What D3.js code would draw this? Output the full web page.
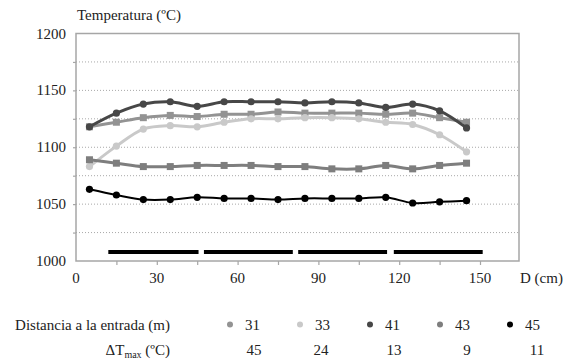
<!DOCTYPE html>
<html>
<head>
<meta charset="utf-8">
<script src="https://cdn.jsdelivr.net/npm/d3@7"></script>
<style>
  html, body { margin: 0; padding: 0; background: #fff; }
  svg { display: block; }
</style>
</head>
<body>
<svg id="chart" width="568" height="359"></svg>
<script>
// Distance along the section (cm)
const positions = [5, 15, 25, 35, 45, 55, 65, 75, 85, 95, 105, 115, 125, 135, 145];

// Temperature (ºC) at each distance from the entrance (m)
const t31 = [1118, 1122, 1126, 1128, 1127, 1129, 1129, 1131, 1130, 1130, 1130, 1129, 1130, 1126, 1122];
const t33 = [1083, 1101, 1116, 1119, 1118, 1122, 1125, 1125, 1126, 1126, 1125, 1122, 1120, 1111, 1096];
const t41 = [1118, 1130, 1138, 1140, 1136, 1140, 1140, 1140, 1139, 1140, 1139, 1135, 1138, 1132, 1117];
const t43 = [1089, 1086, 1083, 1083, 1084, 1084, 1084, 1083, 1083, 1081, 1081, 1084, 1081, 1084, 1086];
const t45 = [1063, 1058, 1054, 1054, 1056, 1055, 1055, 1054, 1055, 1055, 1055, 1056, 1051, 1052, 1053];

const distances = ["31", "33", "41", "43", "45"];
const deltaTmax = ["45", "24", "13", "9", "11"];

// Heated zones along the section (cm)
const zoneStarts = [12, 47.5, 82.5, 118];
const zoneEnds = [45.5, 80.5, 115.5, 151];

const xTicks = [0, 30, 60, 90, 120, 150];
const yTicks = [1000, 1050, 1100, 1150, 1200];
const yGrid = [1025, 1050, 1075, 1100, 1125, 1150, 1175];

const seriesList = [
  { name: distances[0], values: t31, color: "#939393", marker: "square", width: 3 },
  { name: distances[1], values: t33, color: "#c9c9c9", marker: "circle", width: 3 },
  { name: distances[2], values: t41, color: "#474747", marker: "circle", width: 3 },
  { name: distances[3], values: t43, color: "#7e7e7e", marker: "square", width: 3 },
  { name: distances[4], values: t45, color: "#000000", marker: "circle", width: 2 }
];

const FONT = "'Liberation Serif', 'Times New Roman', Times";
const svg = d3.select("#chart");
const plotLeft = 76, plotRight = 519, plotTop = 33.5, plotBottom = 261;

const x = d3.scaleLinear().domain([0, 150]).range([plotLeft, 480]);
const y = d3.scaleLinear().domain([1000, 1200]).range([plotBottom, plotTop]);

function label(sel) {
  return sel.style("font-family", FONT).attr("font-size", 15).attr("fill", "#222");
}

// dotted horizontal grid
svg.append("g").selectAll("line").data(yGrid).join("line")
  .attr("x1", plotLeft).attr("x2", plotRight)
  .attr("y1", d => y(d)).attr("y2", d => y(d))
  .attr("stroke", "#a8a8a8").attr("stroke-width", 1)
  .attr("stroke-dasharray", "1,2");

// plot frame
svg.append("rect")
  .attr("x", plotLeft).attr("y", plotTop)
  .attr("width", plotRight - plotLeft).attr("height", plotBottom - plotTop)
  .attr("fill", "none").attr("stroke", "#a6a6a6").attr("stroke-width", 1.5);

// x axis: minor ticks every 15 cm, labels every 30 cm
const xAxis = d3.axisBottom(x)
  .tickValues(d3.range(15, 151, 15))
  .tickSize(4).tickFormat("");
const gx = svg.append("g").attr("transform", `translate(0,${plotBottom})`).call(xAxis);
gx.select(".domain").remove();
gx.selectAll(".tick line").attr("stroke", "#a6a6a6").attr("stroke-width", 1.2);

label(svg.append("g").selectAll("text").data(xTicks).join("text")
  .attr("x", d => x(d)).attr("y", 283)
  .attr("text-anchor", "middle"))
  .text(d => d);

// y axis
const yAxis = d3.axisLeft(y).tickValues(yGrid).tickSize(3).tickFormat("");
const gy = svg.append("g").attr("transform", `translate(${plotLeft},0)`).call(yAxis);
gy.select(".domain").remove();
gy.selectAll(".tick line").attr("stroke", "#a6a6a6").attr("stroke-width", 1.2);

label(svg.append("g").selectAll("text").data(yTicks).join("text")
  .attr("x", 66).attr("y", d => y(d) + 5)
  .attr("text-anchor", "end"))
  .text(d => d);

label(svg.append("text").attr("x", 77).attr("y", 20)).text("Temperatura (ºC)");
label(svg.append("text").attr("x", 520).attr("y", 283)).text("D (cm)");

// heated zone bars
svg.append("g").selectAll("line").data(zoneStarts).join("line")
  .attr("x1", d => x(d)).attr("x2", (d, i) => x(zoneEnds[i]))
  .attr("y1", 252).attr("y2", 252)
  .attr("stroke", "#000").attr("stroke-width", 4);

// series lines and markers
const line = d3.line()
  .x((d, i) => x(positions[i]))
  .y(d => y(d))
  .curve(d3.curveCatmullRom.alpha(0.5));

seriesList.forEach(s => {
  const g = svg.append("g");
  g.append("path").datum(s.values)
    .attr("d", line)
    .attr("fill", "none")
    .attr("stroke", s.color).attr("stroke-width", s.width)
    .attr("stroke-linejoin", "round");
  if (s.marker === "square") {
    g.selectAll("rect").data(s.values).join("rect")
      .attr("x", (d, i) => x(positions[i]) - 3.5)
      .attr("y", d => y(d) - 3.5)
      .attr("width", 7).attr("height", 7)
      .attr("fill", s.color);
  } else {
    g.selectAll("circle").data(s.values).join("circle")
      .attr("cx", (d, i) => x(positions[i]))
      .attr("cy", d => y(d))
      .attr("r", 3.6)
      .attr("fill", s.color);
  }
});

// legend
const legendX = [230, 300, 370, 440, 510];
const valueX = [254, 321, 394, 467, 537];

label(svg.append("text").attr("x", 170).attr("y", 330)
  .attr("text-anchor", "end"))
  .text("Distancia a la entrada (m)");

const lg = svg.append("g");
seriesList.forEach((s, i) => {
  lg.append("circle").attr("cx", legendX[i]).attr("cy", 324.5).attr("r", 3)
    .attr("fill", s.color);
  label(lg.append("text").attr("x", legendX[i] + 15).attr("y", 330)).text(s.name);
  label(lg.append("text").attr("x", valueX[i]).attr("y", 355)
    .attr("text-anchor", "middle")).text(deltaTmax[i]);
});

const dt = label(svg.append("text").attr("x", 170).attr("y", 355)
  .attr("text-anchor", "end"));
dt.append("tspan").text("ΔT");
dt.append("tspan").attr("font-size", 10).attr("dy", 3).text("max");
dt.append("tspan").attr("dy", -3).text(" (ºC)");
</script>
</body>
</html>
